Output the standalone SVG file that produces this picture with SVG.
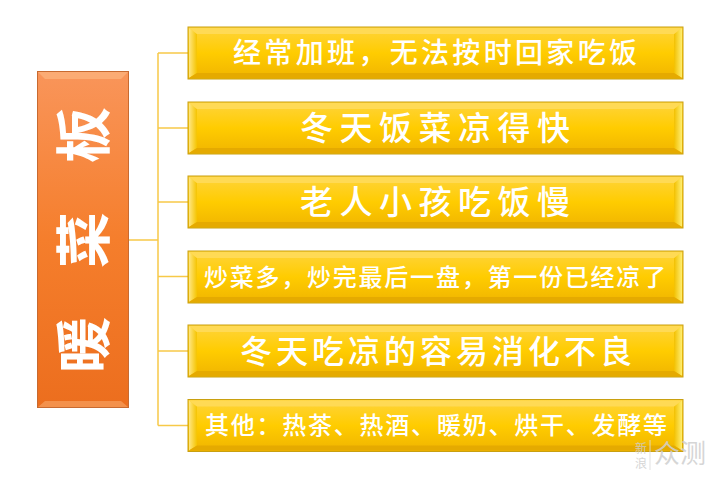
<svg xmlns="http://www.w3.org/2000/svg" width="720" height="479" viewBox="0 0 720 479">
<defs>
<linearGradient id="gY" x1="0" y1="0" x2="0" y2="1">
<stop offset="0" stop-color="#FFD43C"/>
<stop offset="0.5" stop-color="#FFCC00"/>
<stop offset="1" stop-color="#F0B400"/>
</linearGradient>
<linearGradient id="gO" x1="0" y1="0" x2="0" y2="1">
<stop offset="0" stop-color="#F9955A"/>
<stop offset="0.5" stop-color="#F57E2C"/>
<stop offset="1" stop-color="#EC6E1E"/>
</linearGradient>
<linearGradient id="gEdgeL" x1="0" y1="0" x2="1" y2="0">
<stop offset="0" stop-color="#FFE680"/>
<stop offset="1" stop-color="#F5C400"/>
</linearGradient>
<linearGradient id="gEdgeR" x1="0" y1="0" x2="1" y2="0">
<stop offset="0" stop-color="#F2C000"/>
<stop offset="1" stop-color="#FFEE70"/>
</linearGradient>
<g id="ybox">
<rect x="0" y="0" width="495" height="52" fill="url(#gY)" stroke="#C9A010" stroke-width="1"/>
<polygon points="1,1 9,7 9,46 1,51" fill="url(#gEdgeL)"/>
<polygon points="494,1 486,7 486,46 494,51" fill="url(#gEdgeR)"/>
<polygon points="1,1 494,1 486,7 9,7" fill="#FFDA55"/>
<polygon points="1,51 494,51 486,46 9,46" fill="#E5AA00"/>
</g>
</defs>
<style>
.t{font-family:"Noto Sans CJK SC","Noto Sans",sans-serif;fill:#FFFFFF;text-anchor:middle;font-weight:500}
.r{font-weight:bold}
.c{fill:none;stroke:#F7C948;stroke-width:1.5}
</style>
<rect width="720" height="479" fill="#FFFFFF"/>
<g id="connectors">
<path class="c" d="M129,240 H158 M158,53 V425.5 M158,53 H188 M158,128 H188 M158,202 H188 M158,276.5 H188 M158,351 H188 M158,425.5 H188"/>
</g>
<g id="root">
<rect x="37.5" y="71.5" width="91" height="336" fill="url(#gO)" stroke="#C86A30" stroke-width="1"/>
<polygon points="38,72 128,72 121,79 45,79" fill="#FBB07A" opacity="0.8"/>
<polygon points="38,407 128,407 121,401 45,401" fill="#F7A060" opacity="0.7"/>
<g transform="translate(79,240) rotate(-90)">
<text class="t r" x="-105 0 105" y="0" dominant-baseline="central" font-size="56">暖菜板</text>
</g>
</g>
<g id="n1"><use href="#ybox" x="188" y="27"/><text class="t" x="435" y="63" font-size="28" textLength="404" lengthAdjust="spacing">经常加班，无法按时回家吃饭</text></g>
<g id="n2"><use href="#ybox" x="188" y="102"/><text class="t" x="435" y="139.5" font-size="33" textLength="270" lengthAdjust="spacing">冬天饭菜凉得快</text></g>
<g id="n3"><use href="#ybox" x="188" y="176"/><text class="t" x="435" y="213.5" font-size="33" textLength="270" lengthAdjust="spacing">老人小孩吃饭慢</text></g>
<g id="n4"><use href="#ybox" x="188" y="251"/><text class="t" x="435" y="285.5" font-size="24" textLength="462" lengthAdjust="spacing">炒菜多，炒完最后一盘，第一份已经凉了</text></g>
<g id="n5"><use href="#ybox" x="188" y="325"/><text class="t" x="436" y="362.5" font-size="32" textLength="392" lengthAdjust="spacing">冬天吃凉的容易消化不良</text></g>
<g id="n6"><use href="#ybox" x="188" y="399.5"/><text class="t" x="436" y="433.5" font-size="24" textLength="462" lengthAdjust="spacing">其他：热茶、热酒、暖奶、烘干、发酵等</text></g>
<g id="watermark" font-family="'Noto Sans CJK SC',sans-serif" fill="#CFCFCF" opacity="0.85">
<text x="641" y="442" font-size="12" writing-mode="vertical-rl" letter-spacing="3">新浪</text>
<line x1="650" y1="440" x2="650" y2="470" stroke="#DDDDDD" stroke-width="1"/>
<text x="654" y="463" font-size="26">众测</text>
</g>
</svg>
